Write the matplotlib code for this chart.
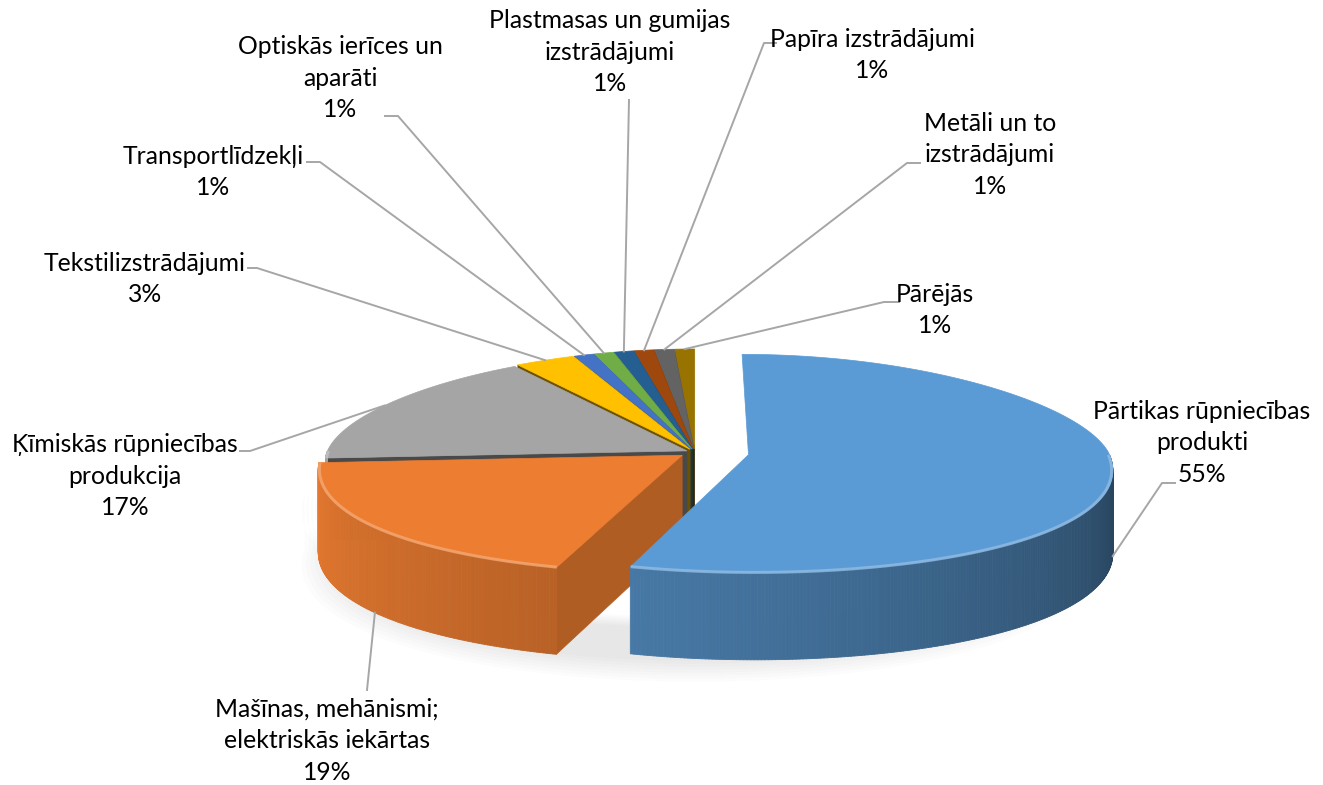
import numpy as np
import matplotlib.pyplot as plt
from matplotlib.patches import Polygon
from matplotlib.collections import PolyCollection
from matplotlib.colors import to_rgb

# data
categories = ['Pārtikas rūpniecības\nprodukti',
              'Mašīnas, mehānismi;\nelektriskās iekārtas',
              'Ķīmiskās rūpniecības\nprodukcija',
              'Tekstilizstrādājumi',
              'Transportlīdzekļi',
              'Optiskās ierīces un\naparāti',
              'Plastmasas un gumijas\nizstrādājumi',
              'Papīra izstrādājumi',
              'Metāli un to\nizstrādājumi',
              'Pārējās']
shares = [55, 19, 17, 3, 1, 1, 1, 1, 1, 1]
colors = ['#5B9BD5', '#ED7D31', '#A5A5A5', '#FFC000', '#4472C4',
          '#70AD47', '#255E91', '#9E480E', '#636363', '#997300']
explode = [0.15, 0.045, 0.025, 0.03, 0.03, 0.03, 0.03, 0.03, 0.03, 0.03]

# label layout (pixel coords, text centre) and leader elbows
label_xy = [(1202, 443), (327, 741), (125, 476), (145, 279), (213, 172),
            (340, 78), (610, 52), (872, 55), (990, 155), (935, 310)]
leader_pts = [[(1175, 483), (1162, 483)], [(367, 690), (367, 690)],
              [(240, 451), (250, 451)], [(248, 268), (257, 268)],
              [(307, 162), (320, 162)], [(385, 116), (398, 116)],
              [(629, 100), (629, 100)], [(776, 43), (764, 43)],
              [(920, 163), (907, 163)], [(899, 302), (884, 302)]]

# 3d-ish projection settings
CX, CY = 695, 452
RX, RY_BACK, RY_FRONT = 360, 100, 118
DEPTH = 82
PERSP = 0.12


def to_screen(px, py, z=0.0):
    px = np.asarray(px, float)
    py = np.asarray(py, float)
    rx = RX * (1 - PERSP * py)
    ry = np.where(py > 0, RY_BACK, RY_FRONT)
    x = CX + rx * px
    y = CY - ry * py + z * DEPTH * (1 - 0.06 * py)
    return x, y


def slice_pt(theta, r, mid, e, z=0.0):
    t = np.radians(theta)
    m = np.radians(mid)
    px = r * np.sin(t) + e * np.sin(m)
    py = r * np.cos(t) + e * np.cos(m)
    return to_screen(px, py, z)


def shade(c, f):
    return tuple(np.clip(np.array(to_rgb(c)) * f, 0, 1))


def lighten(c, f):
    c = np.array(to_rgb(c))
    return tuple(c + (1 - c) * f)


def wall_factor(theta):
    x = np.clip((theta - 90) / 180.0, 0, 1)
    return 0.38 + 0.6 * x ** 0.8


fig = plt.figure(figsize=(13.23, 7.85), dpi=100)
ax = fig.add_axes([0, 0, 1, 1])
ax.set_xlim(0, 1323)
ax.set_ylim(785, 0)
ax.axis('off')

total = float(sum(shares))
bounds = np.concatenate([[0], np.cumsum(shares)]) / total * 360
order = list(range(len(shares)))[::-1]

# soft shadow under the pie
for k in range(8):
    sx, sy = slice_pt(np.linspace(90, 270, 120), 1.0 + 0.012 * k, 180, 0.0, 1.0)
    ax.fill(np.concatenate([sx, sx[::-1]]),
            np.concatenate([sy + 4 + 1.5 * k, sy[::-1] - 40]),
            color='#000000', alpha=0.012, lw=0, zorder=0)

# sides
for i in order:
    a, b = bounds[i], bounds[i + 1]
    mid = (a + b) / 2
    e = explode[i]
    c = colors[i]
    # radial cut face at start angle
    if np.sin(np.radians(a)) < -1e-6:
        normal = a - 90
        f = 0.42 + 0.34 * max(0.0, np.sin(np.radians(normal)))
        x0, y0 = slice_pt(a, 0.0, mid, e)
        x1, y1 = slice_pt(a, 1.0, mid, e)
        x2, y2 = slice_pt(a, 1.0, mid, e, 1.0)
        x3, y3 = slice_pt(a, 0.0, mid, e, 1.0)
        ax.add_patch(Polygon([(x0, y0), (x1, y1), (x2, y2), (x3, y3)],
                             closed=True, fc=shade(c, f), ec=shade(c, f),
                             lw=0.5, zorder=2))
    # outer wall, front half only
    lo, hi = max(a, 90), min(b, 270)
    if hi > lo:
        ts = np.linspace(lo, hi, int((hi - lo) * 2) + 2)
        xt, yt = slice_pt(ts, 1.0, mid, e)
        xb, yb = slice_pt(ts, 1.0, mid, e, 1.0)
        quads, fcs = [], []
        for j in range(len(ts) - 1):
            quads.append([(xt[j], yt[j]), (xt[j + 1], yt[j + 1]),
                          (xb[j + 1], yb[j + 1]), (xb[j], yb[j])])
            fcs.append(shade(c, wall_factor((ts[j] + ts[j + 1]) / 2)))
        ax.add_collection(PolyCollection(quads, facecolors=fcs,
                                         edgecolors=fcs, lw=0.6, zorder=2))

# top faces
for i in order:
    a, b = bounds[i], bounds[i + 1]
    mid = (a + b) / 2
    e = explode[i]
    c = colors[i]
    ts = np.linspace(a, b, max(3, int((b - a) * 2)))
    xa, ya = slice_pt(ts, 1.0, mid, e)
    xc, yc = slice_pt(mid, 0.0, mid, e)
    pts = [(float(xc), float(yc))] + list(zip(xa, ya))
    ax.add_patch(Polygon(pts, closed=True, fc=c, ec=c, lw=0.5, zorder=3))
    lo, hi = max(a, 90), min(b, 270)
    if hi > lo:
        th = np.linspace(lo, hi, int((hi - lo) * 2) + 2)
        hx, hy = slice_pt(th, 0.997, mid, e)
        ax.plot(hx, hy, color=lighten(c, 0.35), lw=2.2, alpha=0.75,
                solid_capstyle='butt', zorder=4)

# labels and leader lines
for i in range(len(shares)):
    a, b = bounds[i], bounds[i + 1]
    mid = (a + b) / 2
    front = np.cos(np.radians(mid)) < 0
    ex, ey = slice_pt(mid, 1.0, mid, explode[i], 1.0 if front else 0.0)
    (p0, p1) = leader_pts[i]
    ax.plot([p0[0], p1[0], float(ex)], [p0[1], p1[1], float(ey)],
            color='#A6A6A6', lw=1.4, zorder=5)
    txt = f'{categories[i]}\n{shares[i]:.0f}%'
    ax.text(label_xy[i][0], label_xy[i][1], txt, ha='center', va='center',
            fontsize=17.8, family='Lato', color='#000000', linespacing=1.45,
            zorder=6)

fig.savefig('out.png', dpi=100)
